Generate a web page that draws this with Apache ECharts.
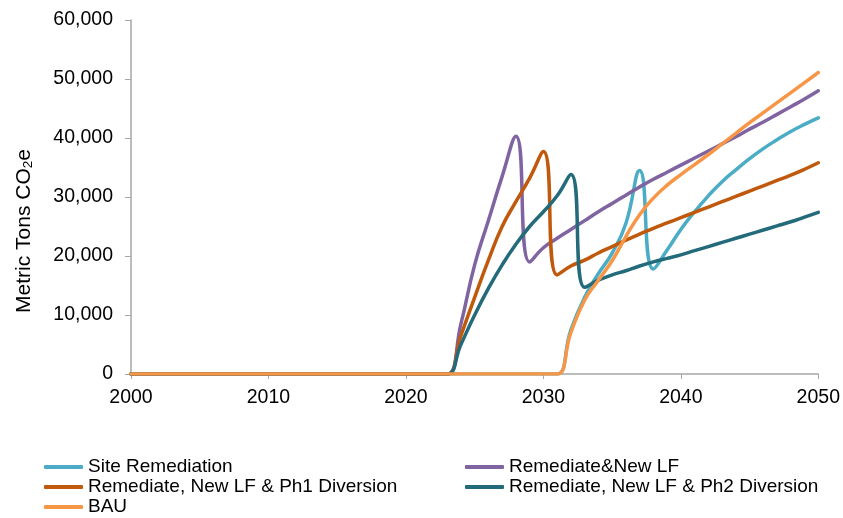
<!DOCTYPE html>
<html>
<head>
<meta charset="utf-8">
<script src="https://cdn.jsdelivr.net/npm/echarts@6/dist/echarts.min.js"></script>
<style>
  html, body { margin: 0; padding: 0; background: #fff; }
  #chart { width: 843px; height: 518px; }
</style>
</head>
<body>
<div id="chart"></div>
<script>
// Annual emissions, metric tons CO2e, 2000–2050
const years = [];
for (let y = 2000; y <= 2050; y++) years.push(y);

const zeros = n => new Array(n).fill(0);

const siteRemediation = zeros(32).concat([
  7500, 13000, 17000, 20500, 25500, 34500, 17800, 21000,
  24500, 27500, 30200, 32600, 34600, 36500, 38200, 39700, 41100, 42300, 43400
]);
const remediateNewLF = zeros(24).concat([
  8500, 18500, 26000, 33500, 40300, 19000, 21400, 23000, 24500, 26000,
  27500, 28900, 30300, 31700, 33000, 34200, 35400, 36600, 37800, 39000,
  40200, 41500, 42700, 44000, 45300, 46600, 48000
]);
const ph1Diversion = zeros(24).concat([
  6500, 13000, 19300, 25000, 29200, 33200, 37700, 16800, 18300, 19300,
  20500, 21600, 22700, 23700, 24700, 25600, 26500, 27400, 28300, 29200,
  30100, 31000, 31900, 32800, 33700, 34700, 35800
]);
const ph2Diversion = zeros(24).concat([
  5000, 10000, 14500, 18500, 22000, 25000, 27500, 30200, 33800, 14700,
  15900, 16800, 17500, 18300, 19000, 19600, 20200, 20900, 21600, 22300,
  23000, 23700, 24400, 25100, 25800, 26600, 27400
]);
const bau = zeros(32).concat([
  7000, 12500, 15900, 19200, 23300, 27000, 29800, 32000,
  33800, 35500, 37200, 39000, 40800, 42600, 44300, 46000, 47700, 49400, 51100
]);

const seriesNames = [
  'Site Remediation',
  'Remediate&New LF',
  'Remediate, New LF & Ph1 Diversion',
  'Remediate, New LF & Ph2 Diversion',
  'BAU'
];
const seriesValues = [siteRemediation, remediateNewLF, ph1Diversion, ph2Diversion, bau];
const seriesColors = ['#4BACC6', '#8064A2', '#C0590B', '#236B7B', '#F79646'];

const yTicks = { min: 0, max: 60000, step: 10000 };
const xTicks = { min: 2000, max: 2050, step: 10 };

const font = 'Liberation Sans, Arial, sans-serif';
const axisGrey = '#A6A6A6';

const chart = echarts.init(document.getElementById('chart'), null, { renderer: 'canvas' });

const legendBase = {
  orient: 'vertical',
  top: 457,
  height: 80,
  padding: 0,
  itemWidth: 39,
  itemHeight: 4,
  itemGap: 0,
  icon: 'roundRect',
  textStyle: { fontFamily: font, fontSize: 19, color: '#000', lineHeight: 20 }
};

chart.setOption({
  animation: false,
  backgroundColor: '#fff',
  grid: { left: 131, right: 24, top: 20, bottom: 144, containLabel: false },
  legend: [
    Object.assign({}, legendBase, { left: 44, data: [seriesNames[0], seriesNames[2], seriesNames[4]] }),
    Object.assign({}, legendBase, { left: 465, data: [seriesNames[1], seriesNames[3]] })
  ],
  xAxis: {
    type: 'value',
    min: xTicks.min, max: xTicks.max, interval: xTicks.step,
    axisLine: { show: true, lineStyle: { color: axisGrey, width: 1.5 } },
    axisTick: { show: true, length: 5, lineStyle: { color: axisGrey } },
    splitLine: { show: false },
    axisLabel: { fontFamily: font, fontSize: 19.5, color: '#000', margin: 14, formatter: v => String(v) }
  },
  yAxis: {
    type: 'value',
    min: yTicks.min, max: yTicks.max, interval: yTicks.step,
    axisLine: { show: true, lineStyle: { color: axisGrey, width: 1.5 } },
    axisTick: { show: true, length: 6, lineStyle: { color: axisGrey } },
    splitLine: { show: false },
    axisLabel: {
      fontFamily: font, fontSize: 19.5, color: '#000', margin: 18,
      formatter: v => v.toLocaleString('en-US')
    }
  },
  graphic: [{
    type: 'text',
    x: 24, y: 231,
    rotation: Math.PI / 2,
    style: {
      text: 'Metric Tons CO{s|2}e',
      fontFamily: font, fontSize: 21, fill: '#000',
      align: 'center', verticalAlign: 'middle', lineHeight: 23,
      rich: { s: { fontFamily: font, fontSize: 13.5, fill: '#000', verticalAlign: 'bottom', lineHeight: 10 } }
    }
  }],
  series: seriesNames.map((name, i) => ({
    name,
    type: 'line',
    data: years.map((y, k) => [y, seriesValues[i][k]]),
    smooth: 0.5,
    showSymbol: false,
    symbol: 'none',
    lineStyle: { color: seriesColors[i], width: 3.5, cap: 'round', join: 'round' },
    itemStyle: { color: seriesColors[i] },
    z: 2 + i
  }))
});
</script>
</body>
</html>
